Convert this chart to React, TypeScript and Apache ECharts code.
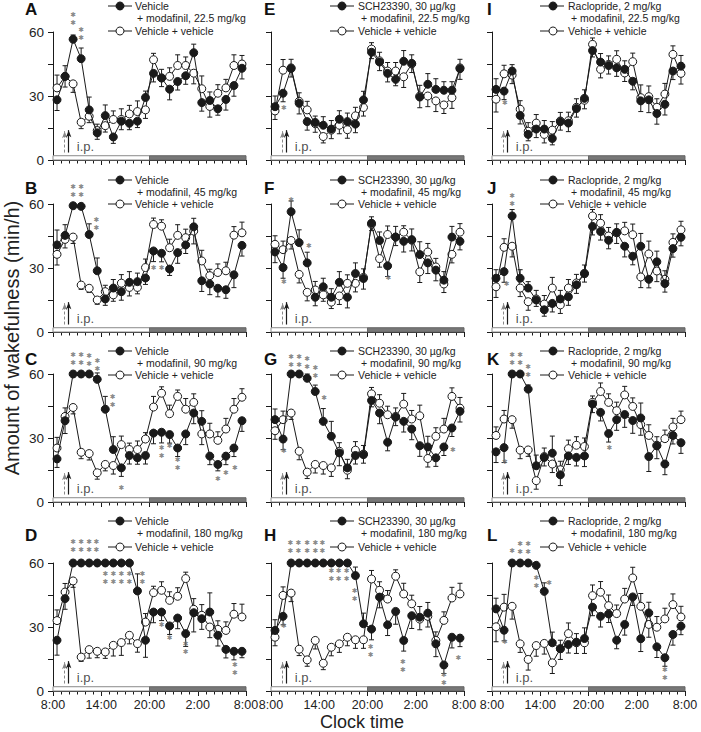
import React, { useEffect, useRef } from "react";
import * as echarts from "echarts";

// ---------- DATA ----------
const HOURS = [0.5, 1.5, 2.5, 3.5, 4.5, 5.5, 6.5, 7.5, 8.5, 9.5, 10.5, 11.5, 12.5, 13.5, 14.5, 15.5, 16.5, 17.5, 18.5, 19.5, 20.5, 21.5, 22.5, 23.5];
const TICK_LABELS = ["8:00", "14:00", "20:00", "2:00", "8:00"];
const DOSES = ["22.5", "45", "90", "180"];
const PRETREAT = ["Vehicle", "SCH23390, 30 µg/kg", "Raclopride, 2 mg/kg"];
const CONTROL_NAME = "Vehicle + vehicle";
const LETTERS = [["A", "B", "C", "D"], ["E", "F", "G", "H"], ["I", "J", "K", "L"]];
const STAR = "✱";

const A_mod = [28.2, 39.2, 56.6, 47.5, 23.5, 12.7, 20.8, 10.8, 18.2, 17.2, 18.2, 29.3, 40.6, 38.4, 33.2, 36.8, 39.5, 50.3, 26.9, 27.9, 24.0, 28.4, 34.9, 43.0];
const A_veh = [33.8, 39.2, 35.7, 17.7, 20.5, 13.8, 16.1, 19.0, 19.0, 21.6, 22.7, 23.5, 47.0, 38.5, 39.2, 44.3, 44.3, 40.7, 33.4, 25.1, 31.3, 33.8, 44.3, 45.0];
const B_mod = [40.8, 45.3, 59.2, 58.9, 45.7, 28.7, 15.5, 20.6, 18.9, 23.3, 23.6, 25.3, 38.0, 36.9, 29.5, 37.2, 40.8, 49.3, 24.0, 22.5, 20.5, 19.8, 26.8, 40.6];
const B_veh = [36.4, 43.4, 44.5, 22.0, 20.5, 15.0, 18.9, 17.4, 22.9, 20.9, 20.9, 30.2, 50.4, 49.6, 39.5, 45.3, 44.2, 47.3, 33.3, 26.4, 27.9, 28.7, 45.4, 46.5];
const C_mod = [20.2, 38.1, 60, 60, 60, 57.5, 43.5, 24.6, 16.0, 21.8, 20.7, 21.8, 32.3, 32.7, 31.6, 25.3, 31.9, 41.7, 37.8, 21.5, 17.6, 21.5, 25.3, 38.1];
const C_veh = [25.3, 40.1, 44.3, 23.3, 22.7, 13.7, 17.6, 17.1, 26.9, 24.6, 24.6, 29.5, 44.5, 51.0, 41.4, 49.5, 43.5, 46.7, 31.9, 31.9, 28.9, 34.2, 43.5, 49.1];
const D_mod = [23.8, 43.3, 60, 60, 60, 60, 60, 60, 60, 60, 46.9, 23.8, 37.0, 37.0, 30.5, 34.2, 26.9, 36.7, 33.9, 37.0, 26.1, 19.5, 18.6, 18.6];
const D_veh = [33.0, 46.4, 51.6, 15.9, 19.4, 18.6, 18.3, 21.4, 22.7, 26.1, 22.2, 32.3, 46.1, 47.2, 42.5, 44.4, 52.7, 38.3, 35.5, 30.0, 28.9, 28.4, 36.0, 34.7];
const E_mod = [25.0, 31.3, 42.9, 26.6, 18.0, 17.6, 16.3, 14.5, 19.1, 18.0, 16.8, 28.2, 50.5, 45.9, 40.6, 37.8, 46.3, 45.3, 29.5, 35.5, 33.1, 32.7, 32.7, 42.8];
const E_veh = [23.0, 42.1, 43.2, 27.5, 23.5, 17.0, 11.0, 14.0, 16.3, 14.2, 20.7, 24.6, 52.0, 46.5, 41.7, 41.7, 39.0, 45.0, 30.0, 30.0, 27.7, 25.8, 29.2, 43.2];
const F_mod = [37.5, 30.2, 56.4, 41.9, 32.4, 16.3, 21.2, 16.3, 23.3, 16.3, 27.4, 25.1, 51.0, 42.9, 31.0, 44.5, 42.5, 43.3, 36.3, 32.4, 29.0, 24.3, 44.5, 42.5];
const F_veh = [41.1, 38.6, 42.9, 27.0, 18.6, 19.7, 17.4, 14.0, 16.9, 22.8, 22.8, 25.6, 50.5, 34.4, 45.7, 44.5, 46.8, 43.0, 28.2, 37.5, 30.5, 22.5, 36.4, 46.8];
const G_mod = [38.6, 29.5, 60, 60, 58.0, 51.8, 37.8, 30.8, 23.0, 16.0, 21.8, 22.2, 47.6, 41.7, 28.0, 39.8, 37.8, 34.2, 26.4, 25.8, 20.7, 25.8, 34.7, 42.5];
const G_veh = [33.4, 38.6, 41.7, 23.8, 14.0, 17.6, 17.1, 16.0, 23.8, 14.9, 24.3, 22.5, 50.7, 46.3, 40.9, 40.1, 45.9, 38.9, 40.4, 20.4, 30.8, 34.2, 49.5, 44.0];
const H_mod = [28.4, 35.0, 60, 60, 60, 60, 60, 60, 60, 60, 54.1, 31.5, 29.0, 44.0, 31.0, 37.3, 23.7, 35.3, 34.6, 36.5, 22.1, 12.2, 25.2, 24.8];
const H_veh = [25.2, 44.8, 45.9, 19.6, 14.6, 23.7, 13.0, 20.5, 22.1, 25.2, 24.0, 24.0, 52.5, 47.2, 43.1, 53.8, 45.5, 40.9, 33.7, 35.0, 23.7, 33.1, 43.6, 45.5];
const I_mod = [33.1, 32.3, 41.7, 20.9, 12.0, 14.5, 14.5, 10.1, 18.0, 17.3, 24.1, 28.9, 51.3, 45.9, 44.3, 43.2, 42.5, 36.9, 27.7, 28.2, 21.8, 26.1, 41.7, 44.0];
const I_veh = [28.5, 40.4, 39.8, 23.8, 13.5, 17.3, 12.0, 14.0, 18.3, 18.4, 24.7, 28.0, 54.2, 42.5, 44.8, 47.2, 40.8, 46.1, 29.2, 29.7, 24.7, 30.9, 49.5, 40.6];
const J_mod = [25.2, 28.3, 54.4, 25.2, 20.6, 15.0, 10.4, 13.4, 15.5, 16.5, 22.1, 27.4, 49.5, 47.1, 43.0, 46.7, 40.2, 35.5, 40.2, 24.7, 32.9, 22.7, 39.1, 44.4];
const J_veh = [21.2, 39.7, 40.2, 20.6, 14.2, 15.5, 13.1, 20.6, 12.7, 20.6, 23.0, 27.4, 54.4, 51.0, 45.0, 46.5, 47.4, 45.6, 25.8, 36.6, 28.6, 24.7, 42.0, 47.9];
const K_mod = [23.5, 25.5, 60, 60, 52.9, 17.0, 20.9, 22.9, 12.7, 21.6, 20.9, 21.6, 45.9, 42.0, 32.1, 38.6, 41.0, 38.2, 39.4, 21.3, 26.3, 17.8, 31.2, 27.8];
const K_veh = [31.2, 38.9, 38.6, 24.3, 24.4, 10.0, 21.3, 17.8, 15.1, 25.0, 26.6, 26.0, 46.7, 51.8, 46.7, 42.8, 50.2, 44.8, 36.3, 31.2, 26.6, 29.7, 35.2, 38.6];
const L_mod = [38.5, 28.5, 60, 60, 60, 58.9, 46.7, 22.6, 19.8, 21.8, 22.9, 24.6, 39.3, 35.0, 36.1, 23.8, 31.2, 44.1, 24.5, 36.6, 20.7, 15.6, 26.5, 30.4];
const L_veh = [30.1, 39.3, 39.7, 22.1, 14.8, 21.3, 22.3, 13.2, 19.8, 26.9, 22.6, 22.6, 44.7, 46.3, 40.0, 36.3, 43.1, 53.0, 39.7, 31.2, 29.9, 33.8, 40.5, 34.7];

// SEM (min/h), read approximately
const A_modE = [5, 5, 2, 5, 6, 3, 5, 3, 4, 3, 3, 3, 4, 4, 5, 4, 4, 4, 4, 4, 3, 5, 5, 5];
const A_vehE = [6, 5, 4, 3, 3, 3, 3, 4, 5, 4, 5, 4, 3, 4, 4, 5, 4, 5, 6, 5, 4, 4, 5, 4];
const B_modE = [7, 5, 1, 1, 5, 6, 3, 4, 4, 5, 4, 3, 5, 4, 3, 5, 4, 4, 5, 5, 4, 4, 6, 5];
const B_vehE = [5, 4, 3, 2, 2, 2, 3, 3, 4, 4, 3, 4, 3, 3, 4, 5, 4, 6, 5, 3, 4, 4, 4, 5];
const C_modE = [4, 6, 0, 0, 0, 3, 6, 6, 4, 4, 3, 4, 5, 5, 4, 4, 5, 5, 5, 4, 3, 4, 4, 5];
const C_vehE = [5, 4, 3, 3, 3, 3, 3, 4, 4, 3, 4, 3, 5, 3, 4, 3, 5, 4, 5, 5, 4, 5, 5, 4];
const D_modE = [7, 5, 0, 0, 0, 0, 0, 0, 0, 0, 8, 8, 5, 4, 4, 5, 6, 9, 5, 9, 5, 4, 4, 3];
const D_vehE = [5, 4, 3, 2, 4, 3, 3, 5, 6, 4, 4, 4, 3, 4, 4, 4, 3, 5, 5, 5, 4, 4, 5, 6];
const E_modE = [5, 4, 4, 5, 4, 3, 4, 4, 4, 4, 4, 4, 3, 4, 4, 3, 5, 4, 5, 5, 5, 4, 4, 5];
const E_vehE = [4, 5, 4, 4, 4, 4, 3, 4, 4, 4, 4, 4, 3, 4, 4, 4, 5, 4, 5, 5, 5, 4, 5, 4];
const F_modE = [5, 5, 5, 6, 5, 4, 4, 4, 5, 5, 5, 5, 3, 4, 5, 5, 5, 5, 6, 5, 5, 4, 5, 4];
const F_vehE = [4, 4, 4, 4, 4, 4, 3, 3, 4, 4, 4, 4, 3, 4, 4, 4, 3, 5, 5, 4, 4, 4, 4, 4];
const G_modE = [5, 5, 0, 0, 2, 3, 6, 7, 6, 4, 4, 4, 3, 5, 4, 4, 5, 5, 5, 5, 4, 4, 4, 5];
const G_vehE = [4, 4, 3, 4, 3, 4, 4, 4, 4, 4, 4, 4, 3, 4, 4, 4, 5, 4, 5, 4, 4, 5, 4, 5];
const H_modE = [5, 4, 0, 0, 0, 0, 0, 0, 0, 0, 4, 5, 5, 5, 5, 6, 5, 6, 5, 5, 6, 4, 5, 4];
const H_vehE = [4, 4, 4, 3, 3, 4, 3, 4, 4, 4, 4, 4, 4, 4, 4, 3, 5, 4, 5, 5, 4, 4, 5, 5];
const I_modE = [5, 4, 3, 4, 3, 4, 4, 3, 4, 4, 4, 4, 3, 4, 4, 4, 4, 4, 5, 6, 5, 5, 4, 5];
const I_vehE = [6, 4, 4, 4, 4, 4, 4, 4, 4, 4, 4, 4, 3, 4, 4, 4, 4, 4, 6, 5, 4, 5, 4, 5];
const J_modE = [4, 5, 3, 4, 3, 3, 3, 4, 4, 4, 4, 4, 4, 4, 4, 4, 5, 4, 6, 4, 5, 4, 4, 4];
const J_vehE = [5, 4, 5, 4, 4, 4, 4, 5, 4, 4, 4, 4, 3, 4, 4, 5, 4, 5, 5, 6, 5, 4, 4, 4];
const K_modE = [5, 7, 0, 0, 2, 5, 4, 8, 5, 4, 4, 5, 4, 4, 4, 5, 6, 6, 7, 7, 6, 5, 4, 5];
const K_vehE = [4, 4, 4, 4, 3, 4, 4, 4, 4, 4, 4, 4, 3, 4, 4, 4, 4, 4, 5, 5, 4, 4, 4, 4];
const L_modE = [5, 5, 0, 0, 0, 1, 4, 5, 4, 4, 4, 5, 4, 5, 4, 4, 5, 4, 6, 5, 5, 4, 5, 4];
const L_vehE = [7, 6, 6, 4, 5, 5, 5, 5, 5, 5, 5, 5, 5, 5, 5, 4, 5, 5, 6, 6, 5, 5, 5, 5];

// significance marks: [hour, value of top star, number of stacked stars]
const A_stars = [[2.5, 67.8, 2], [3.5, 60.8, 2]];
const B_stars = [[2.5, 68.2, 2], [3.5, 68.2, 2], [5.4, 52.7, 2], [12.5, 30.2, 1], [13.5, 30.2, 1]];
const C_stars = [[2.5, 68.9, 2], [3.5, 68.9, 2], [4.5, 68.4, 2], [5.5, 66.3, 2], [7.4, 49.1, 2], [8.5, 6.4, 1], [13.5, 25.3, 2], [14.5, 26.4, 1], [15.5, 19.9, 2], [20.5, 10.6, 1], [21.5, 13.7, 1], [22.6, 16.0, 1]];
const D_stars = [[2.5, 69.8, 2], [3.5, 69.8, 2], [4.5, 69.8, 2], [5.4, 69.8, 2], [6.5, 55, 2], [7.5, 55, 2], [8.5, 55, 2], [9.5, 55, 2], [11.1, 55, 2], [13.5, 30.8, 1], [14.5, 24.8, 1], [16.5, 22.2, 2], [22.6, 12, 2]];
const E_stars = [[1.6, 24.6, 1]];
const F_stars = [[2.5, 61.9, 1], [1.6, 23.6, 1], [4.7, 40.2, 1], [14.6, 25.1, 1]];
const G_stars = [[2.5, 68.1, 2], [3.5, 68.1, 2], [4.5, 66.9, 2], [5.5, 62.7, 2], [6.6, 48.7, 1], [1.6, 23.8, 1], [22.6, 24.6, 1]];
const H_stars = [[2.4, 69.4, 2], [3.4, 69.4, 2], [4.5, 69.4, 2], [5.5, 69.4, 2], [6.4, 69.4, 2], [7.5, 56.1, 2], [8.4, 56.1, 2], [9.4, 56.1, 2], [10.4, 46.7, 2], [1.6, 30.3, 1], [12.4, 20.8, 2], [16.4, 13.8, 2], [21.5, 7.5, 2], [23.3, 15.4, 1]];
const I_stars = [[1.6, 26.9, 1]];
const J_stars = [[2.5, 63.8, 2], [1.8, 22.4, 1]];
const K_stars = [[2.5, 68.8, 2], [3.5, 68.8, 2], [4.5, 63.1, 2], [1.6, 18.9, 1], [14.6, 25.5, 1]];
const L_stars = [[2.5, 65.4, 1], [3.5, 69, 2], [4.5, 69, 2], [5.5, 53, 2], [7.1, 50.6, 1], [1.6, 22.9, 1], [21.5, 9.8, 2]];

// injection marker (hours after 8:00) and its label position
const IP_DASHED_HOUR = 1.45;
const IP_SOLID_HOUR = 1.95;
const IP_LABEL = [2.9, 6.3];

const PANELS = [
  [[A_mod, A_veh, A_modE, A_vehE, A_stars], [B_mod, B_veh, B_modE, B_vehE, B_stars], [C_mod, C_veh, C_modE, C_vehE, C_stars], [D_mod, D_veh, D_modE, D_vehE, D_stars]],
  [[E_mod, E_veh, E_modE, E_vehE, E_stars], [F_mod, F_veh, F_modE, F_vehE, F_stars], [G_mod, G_veh, G_modE, G_vehE, G_stars], [H_mod, H_veh, H_modE, H_vehE, H_stars]],
  [[I_mod, I_veh, I_modE, I_vehE, I_stars], [J_mod, J_veh, J_modE, J_vehE, J_stars], [K_mod, K_veh, K_modE, K_vehE, K_stars], [L_mod, L_veh, L_modE, L_vehE, L_stars]],
];

// ---------- LAYOUT ----------
const FONT = "Liberation Sans, Arial, Helvetica, sans-serif";
const COL_LEFT = [53, 271, 492];
const ROW_TOP = [32, 204, 374, 563];
const PW = 193;
const PH = 128;
const LEG_X = [
  { ls: 108, cx: 120, tx: 135, tx2: 137 },
  { ls: 330, cx: 342, tx: 358, tx2: 361 },
  { ls: 540, cx: 553, tx: 568, tx2: 571 },
];
const LEG_Y = [[6, 18, 31], [180, 192, 204], [351, 363, 375], [521, 533, 547]];
const LET_X = [25, 264, 487];
const LET_Y = [0.5, 180, 351, 527];
const STAR_STEP = 3.8;
const INK = "#1a1a1a";

function errorRender(params: any, api: any) {
  const x = api.value(0);
  const y = api.value(1);
  const e = api.value(2);
  const d = api.value(3);
  if (!e) return null;
  const p0 = api.coord([x, y]);
  const p1 = api.coord([x, y + d * e]);
  return {
    type: "group",
    children: [
      { type: "line", shape: { x1: p0[0], y1: p0[1], x2: p1[0], y2: p1[1] }, style: { stroke: INK, lineWidth: 1 } },
      { type: "line", shape: { x1: p1[0] - 2.5, y1: p1[1], x2: p1[0] + 2.5, y2: p1[1] }, style: { stroke: INK, lineWidth: 1 } },
    ],
  };
}

function buildOption() {
  const grid: any[] = [];
  const xAxis: any[] = [];
  const yAxis: any[] = [];
  const series: any[] = [];
  const graphic: any[] = [];

  for (let c = 0; c < 3; c++) {
    for (let r = 0; r < 4; r++) {
      const k = grid.length;
      const [mod, veh, modE, vehE, stars] = PANELS[c][r] as any[];
      grid.push({ left: COL_LEFT[c], top: ROW_TOP[r], width: PW, height: PH });
      xAxis.push({
        gridIndex: k, type: "value", min: 0, max: 24, interval: 6,
        axisLine: { show: true, lineStyle: { color: INK, width: 1 } },
        axisTick: { show: true, length: 5, lineStyle: { color: INK } },
        minorTick: { show: true, splitNumber: 6, length: 3.5, lineStyle: { color: INK } },
        splitLine: { show: false }, minorSplitLine: { show: false },
        axisLabel: {
          show: r === 3, fontSize: 12.5, color: "#222", fontFamily: FONT, margin: 7,
          formatter: (v: number) => TICK_LABELS[Math.round(v / 6)],
          showMinLabel: true, showMaxLabel: true,
        },
      });
      yAxis.push({
        gridIndex: k, type: "value", min: 0, max: 60, interval: 30,
        axisLine: { show: true, lineStyle: { color: INK, width: 1 } },
        axisTick: { show: true, length: 5, lineStyle: { color: INK } },
        minorTick: { show: true, splitNumber: 2, length: 5, lineStyle: { color: INK } },
        splitLine: { show: false }, minorSplitLine: { show: false },
        axisLabel: { show: c === 0, fontSize: 13.5, color: "#222", fontFamily: FONT, margin: 9 },
      });

      const modErr = HOURS.map((h, i) => [h, mod[i], modE[i], mod[i] >= veh[i] ? 1 : -1]);
      const vehErr = HOURS.map((h, i) => [h, veh[i], vehE[i], veh[i] > mod[i] ? 1 : -1]);
      series.push({
        type: "custom", xAxisIndex: k, yAxisIndex: k, renderItem: errorRender, data: vehErr,
        clip: false, silent: true, z: 2,
      });
      series.push({
        type: "custom", xAxisIndex: k, yAxisIndex: k, renderItem: errorRender, data: modErr,
        clip: false, silent: true, z: 2,
      });
      series.push({
        type: "line", xAxisIndex: k, yAxisIndex: k, name: CONTROL_NAME,
        data: HOURS.map((h, i) => [h, veh[i]]),
        symbol: "circle", symbolSize: 8, showAllSymbol: true,
        itemStyle: { color: "#ffffff", borderColor: INK, borderWidth: 1 },
        lineStyle: { color: INK, width: 1 }, z: 3, silent: true, clip: false,
      });
      series.push({
        type: "line", xAxisIndex: k, yAxisIndex: k, name: "mod",
        data: HOURS.map((h, i) => [h, mod[i]]),
        symbol: "circle", symbolSize: 8, showAllSymbol: true,
        itemStyle: { color: INK, borderColor: INK, borderWidth: 1 },
        lineStyle: { color: INK, width: 1 }, z: 4, silent: true, clip: false,
        markArea: {
          silent: true,
          data: [
            [{ xAxis: 0, yAxis: 0, itemStyle: { color: "#ffffff", borderColor: "#8a8a8a", borderWidth: 1 } }, { xAxis: 12, yAxis: 2 }],
            [{ xAxis: 12, yAxis: 0, itemStyle: { color: "#777777", borderColor: "#666666", borderWidth: 1 } }, { xAxis: 24, yAxis: 2 }],
          ],
        },
        markLine: {
          silent: true, symbol: ["none", "arrow"], symbolSize: [4, 7], label: { show: false },
          data: [
            [{ coord: [IP_DASHED_HOUR, 3.5], lineStyle: { color: "#888", type: [3, 2], width: 1 } }, { coord: [IP_DASHED_HOUR, 13.5] }],
            [{ coord: [IP_SOLID_HOUR, 3.5], lineStyle: { color: INK, type: "solid", width: 1.2 } }, { coord: [IP_SOLID_HOUR, 14] }],
          ],
        },
      });

      // stacked significance stars: one small label per stack
      const starData = (stars as number[][]).map(([h, top, n]) => ({
        value: [h, top - ((n - 1) * STAR_STEP) / 2],
        name: Array(n).fill(STAR).join("\n"),
      }));
      series.push({
        type: "scatter", xAxisIndex: k, yAxisIndex: k, data: starData, symbolSize: 1,
        itemStyle: { color: "rgba(0,0,0,0)" }, clip: false, silent: true, z: 5,
        label: {
          show: true, position: "inside", formatter: "{b}", fontSize: 6.8, lineHeight: 8,
          color: "#6a6a6a", fontFamily: "DejaVu Sans", offset: [0, 0],
        },
      });
      series.push({
        type: "scatter", xAxisIndex: k, yAxisIndex: k, data: [{ value: IP_LABEL, name: "i.p." }],
        symbolSize: 1, itemStyle: { color: "rgba(0,0,0,0)" }, clip: false, silent: true, z: 5,
        label: {
          show: true, position: "right", distance: 0, formatter: "{b}", fontSize: 13,
          color: "#1a1a1a", fontFamily: FONT,
        },
      });

      // legend & panel letter
      const lx = LEG_X[c];
      const ly = LEG_Y[r];
      const lf = `10.5px ${FONT}`;
      graphic.push(
        { type: "text", left: LET_X[c], top: LET_Y[r], style: { text: LETTERS[c][r], font: `bold 17px ${FONT}`, fill: "#111" } },
        { type: "line", shape: { x1: lx.ls, y1: ly[0], x2: lx.ls + 24, y2: ly[0] }, style: { stroke: INK, lineWidth: 1 } },
        { type: "circle", shape: { cx: lx.cx, cy: ly[0], r: 4 }, style: { fill: INK, stroke: INK } },
        { type: "text", x: lx.tx, y: ly[0], style: { text: PRETREAT[c], font: lf, fill: "#222", verticalAlign: "middle" } },
        { type: "text", x: lx.tx2, y: ly[1], style: { text: `+ modafinil, ${DOSES[r]} mg/kg`, font: lf, fill: "#222", verticalAlign: "middle" } },
        { type: "line", shape: { x1: lx.ls, y1: ly[2], x2: lx.ls + 24, y2: ly[2] }, style: { stroke: INK, lineWidth: 1 } },
        { type: "circle", shape: { cx: lx.cx, cy: ly[2], r: 4 }, style: { fill: "#fff", stroke: INK, lineWidth: 1 } },
        { type: "text", x: lx.tx, y: ly[2], style: { text: CONTROL_NAME, font: lf, fill: "#222", verticalAlign: "middle" } },
      );
    }
  }

  graphic.push(
    {
      type: "text", x: 12, y: 338, rotation: Math.PI / 2,
      style: { text: "Amount of wakefulness (min/h)", font: `20px ${FONT}`, fill: "#222", align: "center", verticalAlign: "middle" },
    },
    {
      type: "text", x: 362, y: 721.8,
      style: { text: "Clock time", font: `18px ${FONT}`, fill: "#222", align: "center", verticalAlign: "middle" },
    },
  );

  return { animation: false, backgroundColor: "#ffffff", grid, xAxis, yAxis, series, graphic };
}

export default function App() {
  const ref = useRef<HTMLDivElement>(null);
  useEffect(() => {
    if (!ref.current) return;
    const chart = echarts.init(ref.current, undefined, { renderer: "svg" });
    chart.setOption(buildOption() as any);
    return () => chart.dispose();
  }, []);
  return <div ref={ref} style={{ position: "fixed", left: 0, top: 0, width: 701, height: 732, background: "#fff" }} />;
}
